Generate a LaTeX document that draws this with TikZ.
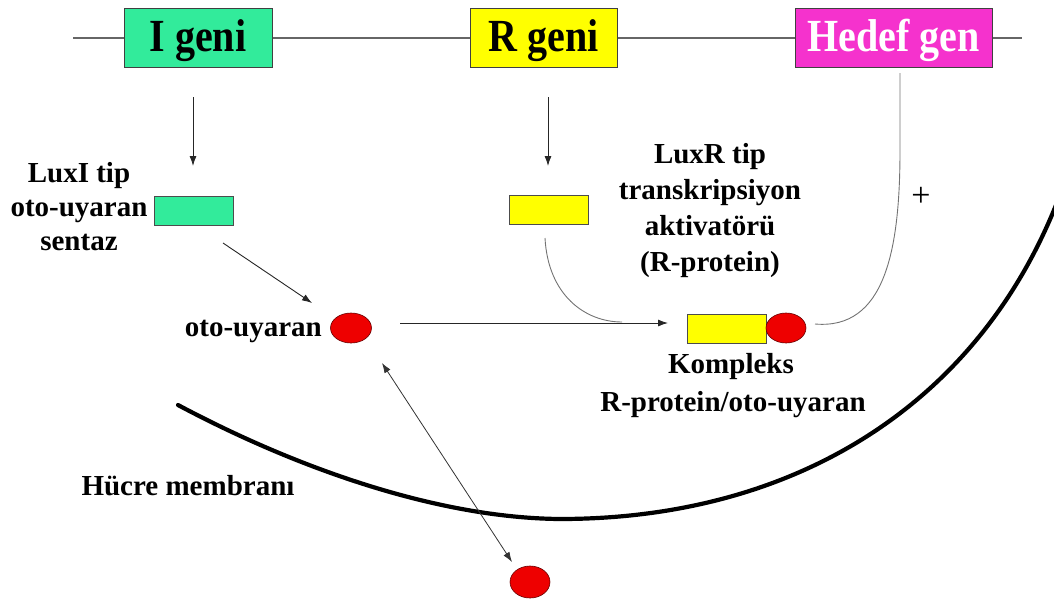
\documentclass[tikz,border=0pt]{standalone}
\usepackage{fontspec}
\setmainfont{Liberation Serif}
\usetikzlibrary{arrows.meta,shapes.geometric}
\definecolor{igreen}{RGB}{50,235,155}
\definecolor{ryellow}{RGB}{255,255,0}
\definecolor{hmagenta}{RGB}{245,50,205}
\definecolor{ballred}{RGB}{238,0,0}
\newcommand{\genetext}[1]{\scalebox{0.87}[1]{#1}}
\begin{document}
\begin{tikzpicture}[x=1pt,y=-1pt,
  genebox/.style={draw=black!75,line width=0.8pt,inner sep=0pt,minimum height=59pt,
    text height=35pt,text depth=7pt,
    font=\fontsize{46}{46}\selectfont\bfseries},
  protbox/.style={draw=black!70,line width=0.7pt,inner sep=0pt,minimum width=79pt,minimum height=29pt},
  ball/.style={ellipse,draw=black!60!red,line width=0.6pt,fill=ballred,inner sep=0pt,
    minimum width=41pt,minimum height=30pt},
  lbl/.style={font=\fontsize{29}{34}\selectfont\bfseries,inner sep=0pt,align=center},
  arr/.style={draw=black!85,line width=0.9pt,-{Latex[length=10pt,width=7pt]}},
  thin/.style={draw=black!55,line width=0.9pt},
]
\useasboundingbox (0,0) rectangle (1054,608);

% chromosome line with the three genes
\coordinate (lineL) at (73,38);
\coordinate (lineR) at (1022,38);
\draw[draw=black!60,line width=1.2pt] (lineL) -- (lineR);
\node[genebox,fill=igreen,minimum width=148pt] (igene) at (198,37.5) {\genetext{I geni}};
\node[genebox,fill=ryellow,minimum width=147pt] (rgene) at (543.5,37.5) {\genetext{R geni}};
\node[genebox,fill=hmagenta,minimum width=197pt,text=white] (hgene) at (893.5,37.5) {\genetext{Hedef gen}};

% translated proteins
\node[protbox,fill=igreen] (luxI) at (193.5,210.5) {};
\node[protbox,fill=ryellow] (luxR) at (548.5,210) {};
\coordinate (iA) at (193,97);
\coordinate (rA) at (548,97);
\draw[arr] (iA) -- (193,166);
\draw[arr] (rA) -- (548,166);

% multi-line labels: the base anchor sits on the last line
\node[lbl,anchor=base] (luxIlbl) at (79,250) {LuxI tip\\oto-uyaran\\sentaz};
\node[lbl,anchor=base,font=\fontsize{29}{35.8}\selectfont\bfseries] (luxRlbl) at (710,271)
  {LuxR tip\\transkripsiyon\\aktivatörü\\(R-protein)};

% autoinducer inside the cell
\node[ball] (ai) at (351,328) {};
\node[lbl,anchor=base east] (ailbl) at (322,336) {oto-uyaran};
\coordinate (s1) at (223,243);
\coordinate (s2) at (312,303);
\draw[arr] (s1) -- (s2);

% R-protein / autoinducer complex
\node[protbox,fill=ryellow] (cplx) at (726.5,328.5) {};
\node[ball,minimum width=40pt] (cball) at (786,328) {};
\node[lbl,anchor=base] (cl1) at (731,373) {Kompleks};
\node[lbl,anchor=base] (cl2) at (733,411) {R-protein/oto-uyaran};

\coordinate (h1) at (400,323);
\coordinate (h2) at (668,323);
\draw[arr] (h1) -- (h2);
\coordinate (rbot) at (545,238);
\coordinate (rjoin) at (622,322);
\draw[thin] (rbot) .. controls (548,295) and (585,322) .. (rjoin);

% activation of the target gene
\coordinate (k1) at (815,324);
\coordinate (k2) at (900,150);
\coordinate (k3) at (900,73);
\draw[thin] (k1) .. controls (885,330) and (900,250) .. (k2) -- (k3);
\node[font=\fontsize{34}{34}\selectfont,inner sep=0pt] (plus) at (921,197) {+};

% cell membrane
\coordinate (m1) at (178,405);
\coordinate (m2) at (560,519);
\coordinate (m3) at (1058,200);
\draw[line width=4.2pt,line cap=round] (m1) .. controls (300,470) and (440,518) .. (m2)
  .. controls (800,519) and (980,400) .. (m3);
\node[lbl,anchor=base] (memlbl) at (188,495) {Hücre membranı};

% autoinducer outside the cell and diffusion through the membrane
\node[ball,minimum width=40pt,minimum height=32pt] (aiout) at (530,582) {};
\coordinate (d1) at (382,363);
\coordinate (d2) at (512,562);
\draw[draw=black!80,line width=0.8pt,{Latex[length=10pt,width=7pt]}-{Latex[length=10pt,width=7pt]}] (d1) -- (d2);
\end{tikzpicture}
\end{document}
